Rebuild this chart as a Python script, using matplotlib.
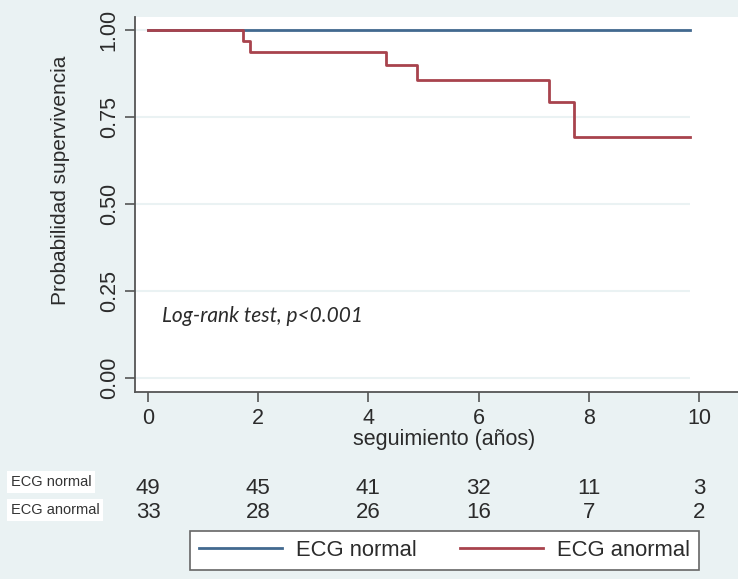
import matplotlib
matplotlib.use("Agg")
import matplotlib.pyplot as plt
from matplotlib.lines import Line2D
import matplotlib.transforms as mtransforms

plt.rcParams['font.family'] = ['Liberation Sans', 'DejaVu Sans']

# ---- data ----
normal_times = [0.0, 9.84]
normal_surv = [1.0, 1.0]
anormal_times = [0.0, 1.72, 1.85, 4.32, 4.89, 7.28, 7.74, 9.84]
anormal_surv = [1.0, 0.969, 0.937, 0.900, 0.856, 0.795, 0.694, 0.694]
series_names = ["ECG normal", "ECG anormal"]
risk_times = [0, 2, 4, 6, 8, 10]
risk_normal = [49, 45, 41, 32, 11, 3]
risk_anormal = [33, 28, 26, 16, 7, 2]
yticks = [0.0, 0.25, 0.50, 0.75, 1.00]
xticks = [0, 2, 4, 6, 8, 10]
annot = "Log-rank test, p<0.001"

# ---- style ----
W, H = 738, 579
bg = "#EAF2F3"
blue = "#42698F"
red = "#A8434D"
txt = "#2b2b2b"

fig = plt.figure(figsize=(W / 100, H / 100), dpi=100, facecolor=bg)
ax = fig.add_axes([135 / W, 1 - 392 / H, (W - 135) / W, (392 - 17) / H])
ax.set_facecolor("white")

x0_px, x_per = 148.0, 55.1
ax.set_xlim((135 - x0_px) / x_per, (W - x0_px) / x_per)
y0_px, y_per = 378.3, 348.0
ax.set_ylim(-(392 - y0_px) / y_per, (y0_px - 17) / y_per)

# grid
ax.hlines(yticks, ax.get_xlim()[0], normal_times[-1], colors=bg, lw=1.5, zorder=1)

ax.step(normal_times, normal_surv, where="post", color=blue, lw=2.0, zorder=3,
        label=series_names[0])
ax.step(anormal_times, anormal_surv, where="post", color=red, lw=2.0, zorder=3,
        label=series_names[1])

for s in ["top", "right"]:
    ax.spines[s].set_visible(False)
for s in ["left", "bottom"]:
    ax.spines[s].set_color("#555555")
    ax.spines[s].set_linewidth(1.3)

ax.set_yticks(yticks)
ax.set_yticklabels([f"{v:.2f}" for v in yticks], rotation=90, va="center",
                   fontsize=15.5, color=txt)
ax.set_xticks(xticks)
ax.set_xticklabels([str(v) for v in xticks], fontsize=15.5, color=txt)
ax.tick_params(axis="both", length=7, width=1.2, color="#555555")
ax.tick_params(axis="y", pad=4)
ax.tick_params(axis="x", pad=4.5)

fig.text(60 / W, 1 - 180 / H, "Probabilidad supervivencia", rotation=90,
         ha="center", va="center", fontsize=15, color=txt)
fig.text(444 / W, 1 - 440 / H, "seguimiento (años)", ha="center", va="center",
         fontsize=15.5, color=txt)

ax.text(0.25, 0.18, annot, fontsize=15, style="italic", family=["Lato", "DejaVu Sans"],
        color=txt, ha="left", va="center")

# risk table
trans = mtransforms.blended_transform_factory(ax.transData, fig.transFigure)
for t, n1, n2 in zip(risk_times, risk_normal, risk_anormal):
    ax.text(t, 1 - 489 / H, str(n1), transform=trans, ha="center", va="center",
            fontsize=16, color=txt, clip_on=False)
    ax.text(t, 1 - 513 / H, str(n2), transform=trans, ha="center", va="center",
            fontsize=16, color=txt, clip_on=False)
for name, yc in zip(series_names, [482, 510]):
    fig.text(11 / W, 1 - yc / H, name, ha="left", va="center", fontsize=10.5,
             color="#333333",
             bbox=dict(boxstyle="square,pad=0.25", fc="white", ec="none"))

handles = [Line2D([], [], color=blue, lw=2.0), Line2D([], [], color=red, lw=2.0)]
leg = fig.legend(handles, series_names, loc="center",
                 bbox_to_anchor=(444.5 / W, 1 - 550.5 / H), ncol=2, fontsize=15.8,
                 handlelength=3.8, handletextpad=0.64, columnspacing=1.95,
                 borderpad=0.4, borderaxespad=0, fancybox=False, frameon=True)
leg.get_frame().set_edgecolor("#666666")
leg.get_frame().set_linewidth(1.2)
leg.get_frame().set_facecolor("white")
leg.get_frame().set_alpha(1)
for t in leg.get_texts():
    t.set_color(txt)

fig.savefig("out.png", dpi=100, facecolor=bg)
